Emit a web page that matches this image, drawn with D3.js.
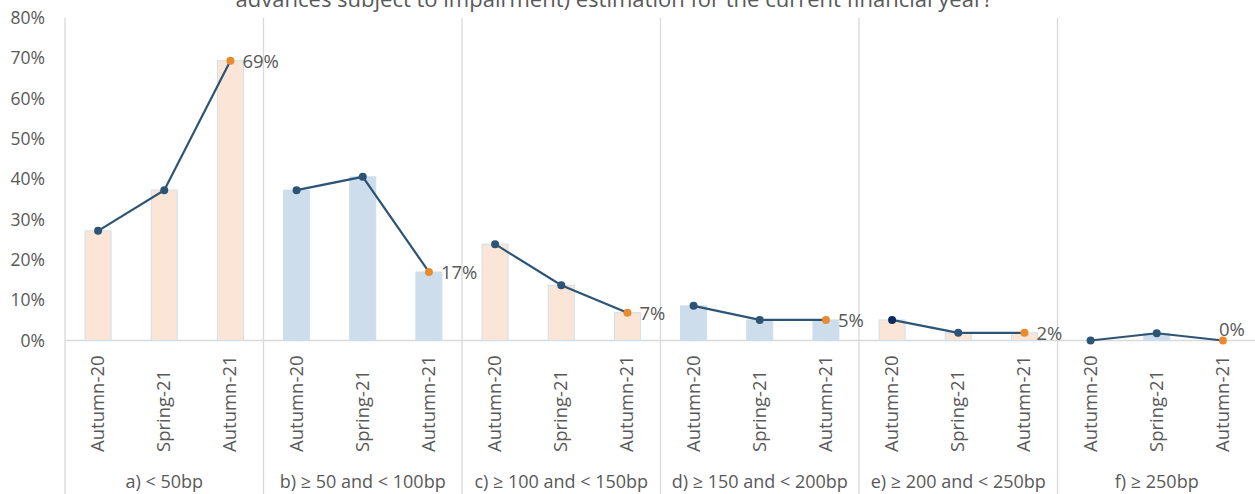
<!DOCTYPE html>
<html>
<head>
<meta charset="utf-8">
<script src="https://cdn.jsdelivr.net/npm/d3@7"></script>
<style>
  html, body { margin: 0; padding: 0; background: #fff; }
  svg { display: block; font-family: "Open Sans", sans-serif; }
</style>
</head>
<body>
<svg id="chart" width="1255" height="494"></svg>
<script>
// Spread bands and survey rounds
const groups = ["a) < 50bp", "b) ≥ 50 and < 100bp", "c) ≥ 100 and < 150bp",
                "d) ≥ 150 and < 200bp", "e) ≥ 200 and < 250bp", "f) ≥ 250bp"];
const periods = ["Autumn-20", "Spring-21", "Autumn-21"];

// Share of respondents per band, one array per survey round (fractions)
const autumn20 = [0.272, 0.373, 0.239, 0.086, 0.051, 0.000];
const spring21 = [0.373, 0.406, 0.137, 0.051, 0.019, 0.018];
const autumn21 = [0.694, 0.170, 0.069, 0.051, 0.019, 0.000];

const yTicks = [0, 0.1, 0.2, 0.3, 0.4, 0.5, 0.6, 0.7, 0.8];
const titleText = "advances subject to impairment) estimation for the current financial year?";

const seriesByPeriod = [autumn20, spring21, autumn21];
const rows = groups.map((g, gi) => ({
  group: g,
  gi,
  points: periods.map((p, pi) => ({ group: g, gi, period: p, pi, value: seriesByPeriod[pi][gi] }))
}));

const svg = d3.select("#chart");
const W = 1255, H = 494;
const plotLeft = 65, plotRight = 1256, plotTop = 18, base = 340.5;

const x0 = d3.scaleBand().domain(groups).range([plotLeft, plotRight]).padding(0);
const x1 = d3.scaleBand().domain(periods).range([0, x0.bandwidth()])
  .paddingInner(0.607).paddingOuter(0.3035);
const y = d3.scaleLinear().domain([0, 0.8]).range([base, plotTop]);

const grey = "#d9d9d9";
const textCol = "#595959";
const lineCol = "#2e5475";
const orange = "#e88a2e";
const barFill = ["#fbe5d6", "#cdddeb"];

// Title (its upper part runs off the top edge of the canvas)
svg.append("text")
  .attr("x", 614).attr("y", 7)
  .attr("text-anchor", "middle")
  .attr("font-size", 22)
  .attr("fill", textCol)
  .text(titleText);

// Y axis labels
const yAxis = d3.axisLeft(y).tickValues(yTicks).tickFormat(d3.format(".0%")).tickSize(0).tickPadding(0);
const ya = svg.append("g").attr("transform", `translate(45,0)`).call(yAxis);
ya.select(".domain").remove();
ya.selectAll("text").attr("font-size", 17.5).attr("fill", textCol)
  .attr("font-family", "'Open Sans', sans-serif");

// Group separators and baseline
svg.append("g").selectAll("line")
  .data(groups.map(g => x0(g)).concat([plotRight]))
  .join("line")
  .attr("x1", d => d).attr("x2", d => d)
  .attr("y1", plotTop).attr("y2", H)
  .attr("stroke", grey).attr("stroke-width", 1.3);
svg.append("line")
  .attr("x1", plotLeft).attr("x2", plotRight)
  .attr("y1", base).attr("y2", base)
  .attr("stroke", grey).attr("stroke-width", 1.3);

// Bars
const gRows = svg.append("g").selectAll("g")
  .data(rows).join("g")
  .attr("transform", d => `translate(${x0(d.group)},0)`);

gRows.selectAll("rect")
  .data(d => d.points).join("rect")
  .attr("x", d => x1(d.period))
  .attr("width", x1.bandwidth())
  .attr("y", d => y(d.value))
  .attr("height", d => base - y(d.value))
  .attr("fill", d => barFill[d.gi % 2])
  .attr("stroke", d => d.gi % 2 === 0 ? "#cfdfee" : barFill[1])
  .attr("stroke-width", 1);

// Trend line inside each band
const line = d3.line()
  .x(d => x1(d.period) + x1.bandwidth() / 2)
  .y(d => y(d.value));
gRows.append("path")
  .attr("d", d => line(d.points))
  .attr("fill", "none")
  .attr("stroke", lineCol)
  .attr("stroke-width", 2.2);

// Markers: latest round highlighted
gRows.selectAll("circle")
  .data(d => d.points).join("circle")
  .attr("cx", d => x1(d.period) + x1.bandwidth() / 2)
  .attr("cy", d => y(d.value))
  .attr("r", 4)
  .attr("fill", d => d.pi === 2 ? orange : (d.gi === 4 && d.pi === 0 ? "#0d2a5c" : lineCol));

// Value labels on the latest round
const pct = d3.format(".0%");
gRows.append("text")
  .attr("class", "value")
  .datum(d => d.points[2])
  .attr("x", d => x1(d.period) + x1.bandwidth() / 2 + (d.value === 0 ? -4 : 12))
  .attr("y", d => d.value === 0 ? y(d.value) - 5 : y(d.value) + 7)
  .attr("text-anchor", "start")
  .attr("font-size", 18.5)
  .attr("fill", textCol)
  .text(d => pct(d.value));

// Category labels (rotated) and band labels
gRows.selectAll("text.period")
  .data(d => d.points).join("text")
  .attr("class", "period")
  .attr("transform", d => `translate(${x1(d.period) + x1.bandwidth() / 2 + 6},${452}) rotate(-90)`)
  .attr("text-anchor", "start")
  .attr("font-size", 18.5)
  .attr("fill", textCol)
  .text(d => d.period);

gRows.append("text")
  .attr("class", "band")
  .attr("x", x0.bandwidth() / 2)
  .attr("y", 488)
  .attr("text-anchor", "middle")
  .attr("font-size", 18)
  .attr("fill", textCol)
  .text(d => d.group);
</script>
</body>
</html>
